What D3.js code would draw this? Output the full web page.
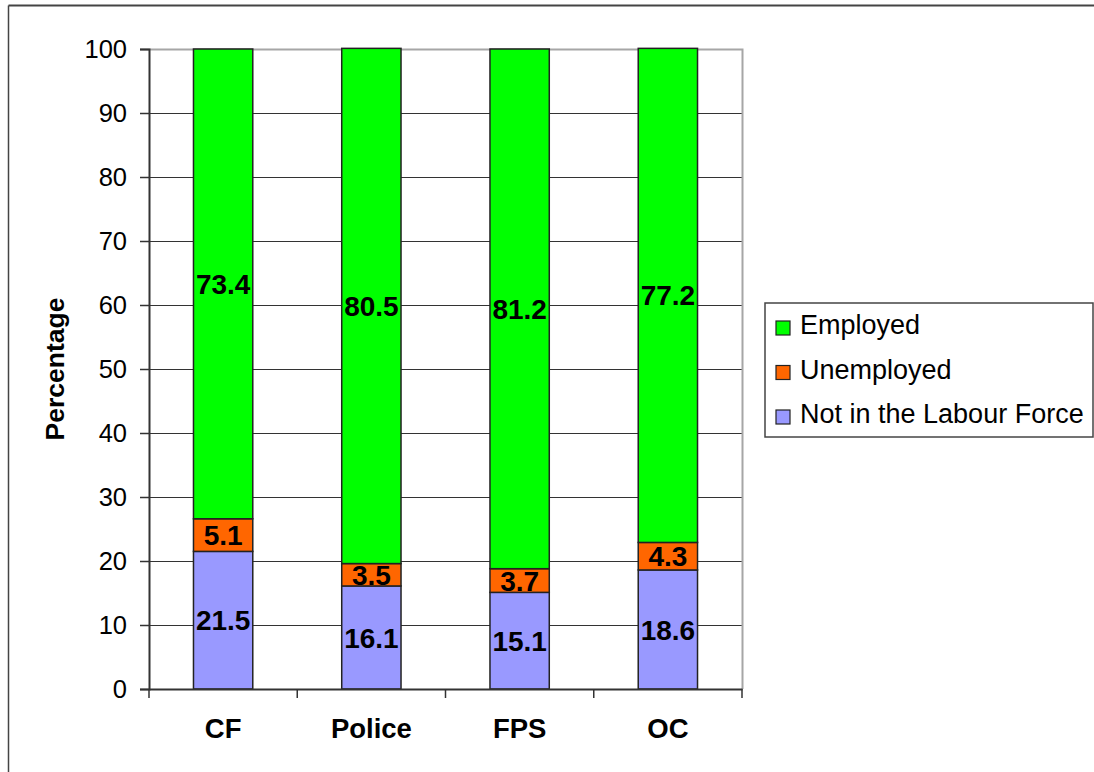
<!DOCTYPE html>
<html>
<head>
<meta charset="utf-8">
<script src="https://cdn.jsdelivr.net/npm/d3@7"></script>
<style>
  html, body { margin: 0; padding: 0; background: #fff; }
  svg { display: block; font-family: "Liberation Sans", Arial, sans-serif; }
</style>
</head>
<body>
<svg id="chart" width="1094" height="772"></svg>
<script>
const categories = ["CF", "Police", "FPS", "OC"];
const seriesNames = ["Not in the Labour Force", "Unemployed", "Employed"];
const notInLabourForce = [21.5, 16.1, 15.1, 18.6];
const unemployed = [5.1, 3.5, 3.7, 4.3];
const employed = [73.4, 80.5, 81.2, 77.2];
const yTicks = [0, 10, 20, 30, 40, 50, 60, 70, 80, 90, 100];
const legendOrder = ["Employed", "Unemployed", "Not in the Labour Force"];

const colors = {
  "Employed": "#00ff00",
  "Unemployed": "#ff6600",
  "Not in the Labour Force": "#9999ff"
};

const svg = d3.select("#chart");
const margin = {top: 49, left: 149, right: 352, bottom: 83};
const W = 1094, H = 772;

// outer frame (only top and left edges show in the original)
svg.append("line").attr("x1", 8.5).attr("x2", W).attr("y1", 5.5).attr("y2", 5.5)
  .attr("stroke", "#444").attr("stroke-width", 2);
svg.append("line").attr("x1", 8.5).attr("x2", 8.5).attr("y1", 5.5).attr("y2", H)
  .attr("stroke", "#444").attr("stroke-width", 1.5);

const x = d3.scaleBand()
  .domain(categories)
  .range([margin.left, W - margin.right])
  .paddingInner(0.6)
  .paddingOuter(0.3);

const y = d3.scaleLinear()
  .domain([0, 100])
  .range([H - margin.bottom, margin.top]);

const rows = categories.map((c, i) => ({
  category: c,
  "Not in the Labour Force": notInLabourForce[i],
  "Unemployed": unemployed[i],
  "Employed": employed[i]
}));

const stacked = d3.stack().keys(seriesNames)(rows);

// gridlines
svg.append("g")
  .selectAll("line")
  .data(yTicks.filter(t => t > 0 && t < 100))
  .join("line")
  .attr("x1", margin.left).attr("x2", W - margin.right)
  .attr("y1", d => Math.round(y(d)) + 0.5).attr("y2", d => Math.round(y(d)) + 0.5)
  .attr("stroke", "#333").attr("stroke-width", 1);

// plot area border (top and right, grey)
svg.append("path")
  .attr("d", `M${margin.left},${y(100) + 0.5}H${W - margin.right + 0.5}V${y(0)}`)
  .attr("fill", "none").attr("stroke", "#a6a6a6").attr("stroke-width", 2);

// bars
const layer = svg.append("g")
  .selectAll("g")
  .data(stacked)
  .join("g")
  .attr("fill", d => colors[d.key]);

layer.selectAll("rect")
  .data(d => d)
  .join("rect")
  .attr("x", d => x(d.data.category))
  .attr("width", x.bandwidth())
  .attr("y", d => y(d[1]))
  .attr("height", d => y(d[0]) - y(d[1]))
  .attr("stroke", "#222")
  .attr("stroke-width", 1.5);

// data labels
layer.selectAll("text")
  .data(d => d.map(v => Object.assign({key: d.key}, v)))
  .join("text")
  .attr("x", d => x(d.data.category) + x.bandwidth() / 2)
  .attr("y", d => y((d[0] + d[1]) / 2))
  .attr("dy", "0.36em")
  .attr("text-anchor", "middle")
  .attr("font-size", 28)
  .attr("font-weight", "bold")
  .attr("fill", "#000")
  .text(d => d.data[d.key].toFixed(1));

// y axis
const yAxis = svg.append("g")
  .attr("transform", `translate(${margin.left},0)`)
  .call(d3.axisLeft(y).tickValues(yTicks).tickSize(9).tickPadding(13));
yAxis.select(".domain").attr("stroke", "#333").attr("stroke-width", 2);
yAxis.selectAll(".tick line").attr("stroke", "#333").attr("stroke-width", 1.5);
yAxis.selectAll(".tick text")
  .attr("font-size", 25.5)
  .attr("font-family", "Liberation Sans, Arial, sans-serif")
  .attr("fill", "#000");

// x axis
const xAxis = svg.append("g")
  .attr("transform", `translate(0,${y(0)})`)
  .call(d3.axisBottom(x).tickSize(0).tickPadding(29));
xAxis.select(".domain").attr("stroke", "#333").attr("stroke-width", 2);
xAxis.selectAll(".tick text")
  .attr("font-size", 27.5)
  .attr("font-weight", "bold")
  .attr("font-family", "Liberation Sans, Arial, sans-serif")
  .attr("fill", "#000");

// x axis ticks at category boundaries
const boundaries = d3.range(categories.length + 1).map(i => x.range()[0] + i * x.step());
xAxis.selectAll(".boundary")
  .data(boundaries)
  .join("line")
  .attr("class", "boundary")
  .attr("x1", d => d).attr("x2", d => d)
  .attr("y1", 0).attr("y2", 9)
  .attr("stroke", "#333").attr("stroke-width", 1.5);

// y axis title
svg.append("text")
  .attr("transform", `translate(64,${y(50)}) rotate(-90)`)
  .attr("text-anchor", "middle")
  .attr("font-size", 26.5)
  .attr("font-weight", "bold")
  .text("Percentage");

// legend
const legend = svg.append("g").attr("transform", "translate(765,303)");
legend.append("rect")
  .attr("width", 328).attr("height", 134)
  .attr("fill", "#fff").attr("stroke", "#444").attr("stroke-width", 1.5);

const item = legend.selectAll(".item")
  .data(legendOrder)
  .join("g")
  .attr("class", "item")
  .attr("transform", (d, i) => `translate(11,${22 + i * 44.5})`);

item.append("rect")
  .attr("x", 0).attr("y", -4)
  .attr("width", 14).attr("height", 14)
  .attr("fill", d => colors[d])
  .attr("stroke", "#222").attr("stroke-width", 1.2);

item.append("text")
  .attr("x", 24).attr("y", 9)
  .attr("font-size", 27)
  .attr("fill", "#000")
  .text(d => d);
</script>
</body>
</html>
